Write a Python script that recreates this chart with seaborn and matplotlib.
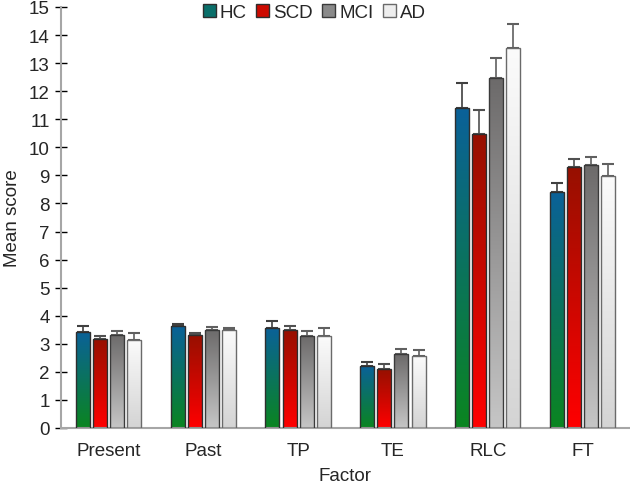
import numpy as np
import pandas as pd
import seaborn as sns
import matplotlib.pyplot as plt
from matplotlib.colors import LinearSegmentedColormap
from matplotlib.patches import Patch

factors = ['Present', 'Past', 'TP', 'TE', 'RLC', 'FT']
groups = ['HC', 'SCD', 'MCI', 'AD']

# mean scores per group (one value per factor)
hc_mean = [3.43, 3.62, 3.58, 2.20, 11.40, 8.42]
scd_mean = [3.18, 3.32, 3.50, 2.10, 10.48, 9.30]
mci_mean = [3.32, 3.50, 3.27, 2.63, 12.48, 9.37]
ad_mean = [3.15, 3.48, 3.27, 2.55, 13.53, 8.99]

# upper error (SE) per group
hc_err = [0.20, 0.10, 0.22, 0.15, 0.90, 0.32]
scd_err = [0.10, 0.07, 0.15, 0.18, 0.84, 0.29]
mci_err = [0.13, 0.10, 0.20, 0.17, 0.71, 0.28]
ad_err = [0.25, 0.10, 0.28, 0.23, 0.85, 0.40]

means = [hc_mean, scd_mean, mci_mean, ad_mean]
errs = [hc_err, scd_err, mci_err, ad_err]

# gradient colours (top, bottom) for each group
grad = {
    'HC': ('#0b6199', '#0a8520'),
    'SCD': ('#961000', '#ff0000'),
    'MCI': ('#6c6a6a', '#c6c6c6'),
    'AD': ('#fbfbfb', '#d4d4d4'),
}
edge = {'HC': '#2e2e2e', 'SCD': '#2e2e2e', 'MCI': '#3a3a3a', 'AD': '#6a6a6a'}
errc = {'HC': '#404040', 'SCD': '#505050', 'MCI': '#606060', 'AD': '#606060'}
mid = {'HC': '#0a6f6a', 'SCD': '#cc0a00', 'MCI': '#8a8a8a', 'AD': '#eeeeee'}

df = pd.DataFrame({
    'Factor': factors * len(groups),
    'Group': np.repeat(groups, len(factors)),
    'Mean': np.concatenate(means),
})

sns.set_style('white')
plt.rcParams['font.family'] = ['Liberation Sans', 'DejaVu Sans']

fig = plt.figure(figsize=(6.3, 4.89), dpi=100)
ax = fig.add_axes([0.0968, 0.1227, 0.9032, 0.861])

sns.barplot(data=df, x='Factor', y='Mean', hue='Group', order=factors,
            hue_order=groups, width=0.72, gap=0.18, errorbar=None,
            legend=False, ax=ax)

ax.set_xlim(-0.5, 5.5)
ax.set_ylim(0, 15)

# gradient fill clipped to each bar, then upper-only error bars
for g, cont, err in zip(groups, ax.containers, errs):
    cmap = LinearSegmentedColormap.from_list(g, [grad[g][1], grad[g][0]])
    xs, hs = [], []
    for bar in cont:
        x0, w, h = bar.get_x(), bar.get_width(), bar.get_height()
        img = np.linspace(0, 1, 256).reshape(-1, 1)
        im = ax.imshow(img, cmap=cmap, extent=[x0, x0 + w, 0, h],
                       origin='lower', aspect='auto', zorder=2)
        im.set_clip_path(bar)
        bar.set_facecolor('none')
        bar.set_edgecolor(edge[g])
        bar.set_linewidth(1.0)
        bar.set_zorder(3)
        xs.append(x0 + w / 2)
        hs.append(h)
    ax.errorbar(xs, hs, yerr=[np.zeros(len(err)), err], fmt='none',
                ecolor=errc[g], elinewidth=1.2, capsize=4, capthick=1.5,
                zorder=1)

ax.set_xlim(-0.5, 5.5)
ax.set_ylim(0, 15)
ax.set_yticks(range(0, 16))
ax.tick_params(axis='y', direction='inout', length=8, width=1, color='black',
               labelsize=13.5, pad=4, left=True)
ax.tick_params(axis='x', length=0, labelsize=13.5, pad=10)
for s in ['top', 'right']:
    ax.spines[s].set_visible(False)
for s in ['left', 'bottom']:
    ax.spines[s].set_color('#a6a6a6')
    ax.spines[s].set_linewidth(1.5)
ax.set_xlabel('Factor', fontsize=13.5, labelpad=6)
ax.set_ylabel('Mean score', fontsize=13.5, labelpad=6)

handles = [Patch(facecolor=mid[g], edgecolor=edge[g], label=g) for g in groups]
fig.legend(handles=handles, loc='center', bbox_to_anchor=(0.499, 0.972),
           ncol=4, frameon=False, fontsize=13.5, handlelength=0.7,
           handleheight=0.7, handletextpad=0.2, columnspacing=0.5)

fig.savefig('out.png', dpi=100)
